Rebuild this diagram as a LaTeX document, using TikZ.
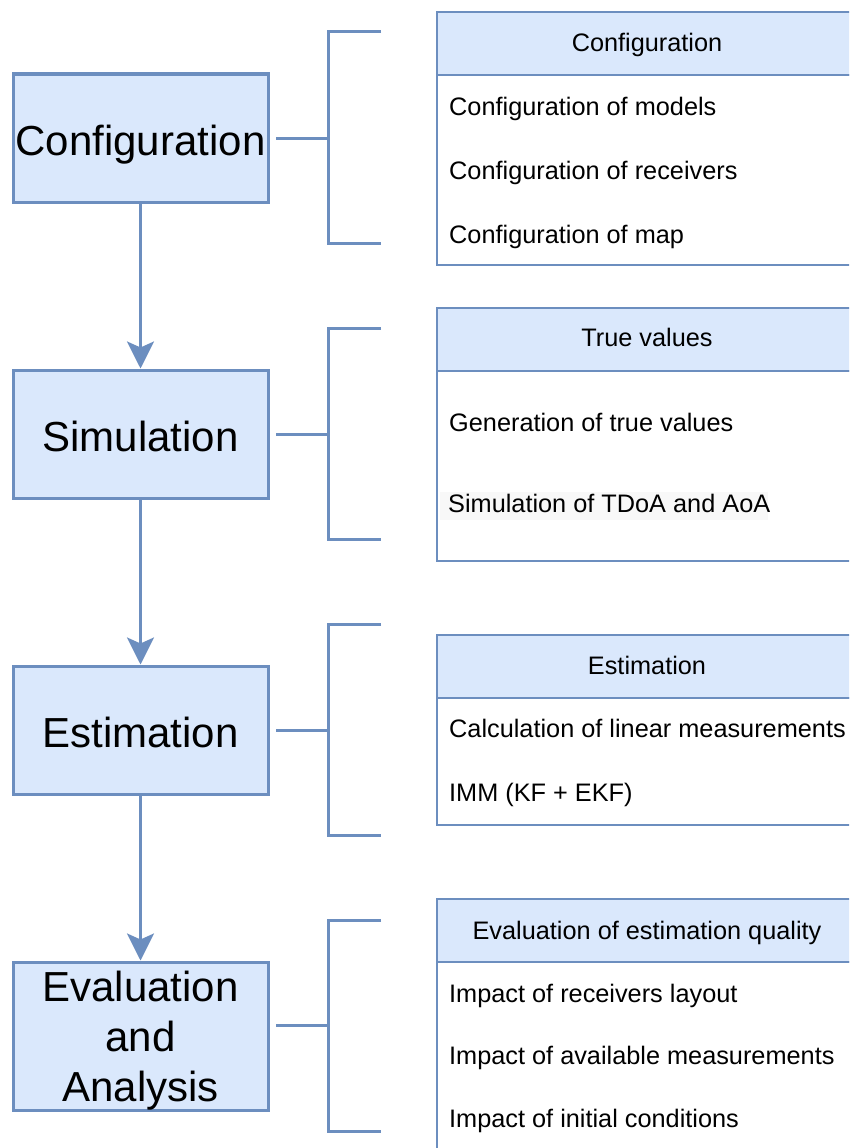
\documentclass[tikz,border=0pt]{standalone}
\usepackage{fontspec}
\setmainfont{Liberation Sans}
\usetikzlibrary{arrows.meta}
\definecolor{boxfill}{HTML}{DAE8FC}
\definecolor{boxline}{HTML}{6C8EBF}
\definecolor{faint}{HTML}{F8F8F8}
\begin{document}
\begin{tikzpicture}[x=1pt,y=-1pt,
  stage/.style={draw=boxline, fill=boxfill, line width=3pt, minimum width=255pt,
    minimum height=128pt, inner sep=0pt, align=center,
    font=\fontsize{42}{50}\selectfont},
  oneline/.style={text height=34pt, text depth=0pt},
  flow/.style={draw=boxline, line width=3pt,
    -{Stealth[length=27pt,width=27pt,inset=6pt]}},
  brace/.style={draw=boxline, line width=3pt},
  panelhead/.style={draw=boxline, fill=boxfill, line width=1.5pt},
  panelbody/.style={draw=boxline, fill=white, line width=1.5pt},
  headtext/.style={anchor=base, inner sep=0pt, font=\fontsize{25.3}{30}\selectfont},
  itemtext/.style={anchor=base west, inner sep=0pt, font=\fontsize{25.3}{30}\selectfont},
]
\clip (0,0) rectangle (849,1148);
\fill[white] (0,0) rectangle (849,1148);

% workflow stages
\node[stage, oneline] (conf) at (140.5,138) {Configuration};
\node[stage, oneline] (sim)  at (140.5,434) {Simulation};
\node[stage, oneline] (est)  at (140.5,730) {Estimation};
\node[stage, minimum height=148pt, text depth=0pt] (eval) at (140.5,1036)
  {Evaluation\\and\\Analysis};

\draw[flow] (conf) -- (sim);
\draw[flow] (sim) -- (est);
\draw[flow] (est) -- (eval);

% brackets linking each stage to its panel
\draw[brace] ([xshift=6.5pt]conf.east) -- ++(52,0);
\draw[brace] (381,32) -| (328,243) -- (381,243);
\draw[brace] ([xshift=6.5pt]sim.east) -- ++(52,0);
\draw[brace] (381,328) -| (328,539) -- (381,539);
\draw[brace] ([xshift=6.5pt]est.east) -- ++(52,0);
\draw[brace] (381,624) -| (328,835) -- (381,835);
\draw[brace] ([xshift=6.5pt,yshift=11pt]eval.east) -- ++(52,0);
\draw[brace] (381,920) -| (328,1131) -- (381,1131);

% panel: configuration
\draw[panelbody] (437,75) rectangle (857,265);
\draw[panelhead] (437,12) rectangle (857,75);
\node[headtext] (confhead) at (647,52) {Configuration};
\node[itemtext] (confa) at (449,115) {Configuration of models};
\node[itemtext] (confb) at (449,179) {Configuration of receivers};
\node[itemtext] (confc) at (449,243) {Configuration of map};

% panel: true values
\draw[panelbody] (437,371) rectangle (857,561);
\draw[panelhead] (437,308) rectangle (857,371);
\node[headtext] (simhead) at (647,346) {True values};
\node[itemtext] (sima) at (449,431) {Generation of true values};
\fill[faint] (440,492) rectangle (768,520);
\node[itemtext] (simb) at (448,512) {Simulation of TDoA and AoA};

% panel: estimation
\draw[panelbody] (437,698) rectangle (857,825);
\draw[panelhead] (437,635) rectangle (857,698);
\node[headtext] (esthead) at (647,674) {Estimation};
\node[itemtext] (esta) at (449,737) {Calculation of linear measurements};
\node[itemtext] (estb) at (449,801) {IMM (KF + EKF)};

% panel: evaluation
\draw[panelbody] (437,962) rectangle (857,1170);
\draw[panelhead] (437,899) rectangle (857,962);
\node[headtext] (evalhead) at (647,939) {Evaluation of estimation quality};
\node[itemtext] (evala) at (449,1002) {Impact of receivers layout};
\node[itemtext] (evalb) at (449,1064) {Impact of available measurements};
\node[itemtext] (evalc) at (449,1127) {Impact of initial conditions};
\end{tikzpicture}
\end{document}
